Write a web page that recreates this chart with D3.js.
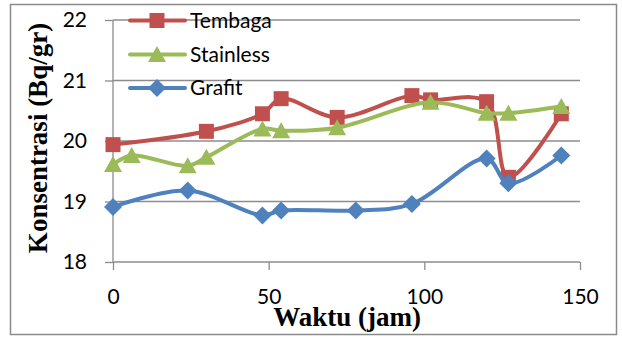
<!DOCTYPE html>
<html>
<head>
<meta charset="utf-8">
<script src="https://cdn.jsdelivr.net/npm/d3@7"></script>
<style>
  html, body { margin: 0; padding: 0; background: #fff; }
  svg { display: block; }
</style>
</head>
<body>
<svg id="chart" width="622" height="337"></svg>
<script>
// Concentration over time for three electrode materials
const tembagaX = [0, 30, 48, 54, 72, 96, 102, 120, 127, 144];
const tembagaY = [19.94, 20.16, 20.45, 20.70, 20.39, 20.75, 20.68, 20.65, 19.40, 20.45];

const stainlessX = [0, 6, 24, 30, 48, 54, 72, 102, 120, 127, 144];
const stainlessY = [19.61, 19.76, 19.59, 19.73, 20.20, 20.17, 20.22, 20.64, 20.46, 20.46, 20.57];

const grafitX = [0, 24, 48, 54, 78, 96, 120, 127, 144];
const grafitY = [18.91, 19.18, 18.77, 18.85, 18.85, 18.96, 19.71, 19.30, 19.76];

const xTicks = [0, 50, 100, 150];
const yTicks = [18, 19, 20, 21, 22];

const seriesNames = ["Tembaga", "Stainless", "Grafit"];
const seriesColors = ["#C0504D", "#9BBB59", "#4F81BD"];

// marker outlines, centred on the data point
const markerPaths = [
  "M-7.5,-7.5H7.5V7.5H-7.5Z",          // square
  "M0,-8.5L9,7.5H-9Z",                  // triangle
  "M0,-9L9,0L0,9L-9,0Z"                 // diamond
];

const series = [
  { name: seriesNames[0], xs: tembagaX, ys: tembagaY },
  { name: seriesNames[1], xs: stainlessX, ys: stainlessY },
  { name: seriesNames[2], xs: grafitX, ys: grafitY }
];

const svg = d3.select("#chart");
const plot = { left: 113, right: 580, top: 20, bottom: 262 };

const x = d3.scaleLinear().domain([0, 150]).range([plot.left, plot.right]);
const y = d3.scaleLinear().domain([18, 22]).range([plot.bottom, plot.top]);

const gridColor = "#8c8c8c";
const tickFont = "Lato, 'Open Sans', sans-serif";
const titleFont = "'Liberation Serif', 'Times New Roman', serif";

// outer chart frame
svg.append("rect")
  .attr("x", 10.5).attr("y", 4.5)
  .attr("width", 606).attr("height", 330)
  .attr("fill", "none").attr("stroke", "#8a8a8a").attr("stroke-width", 1.5);

// horizontal gridlines
svg.append("g").selectAll("line")
  .data(yTicks.filter(t => t !== 18))
  .join("line")
  .attr("x1", plot.left).attr("x2", plot.right)
  .attr("y1", d => y(d)).attr("y2", d => y(d))
  .attr("stroke", gridColor).attr("stroke-width", 1.3);

// y axis
const yAxis = svg.append("g")
  .attr("transform", `translate(${plot.left},0)`)
  .call(d3.axisLeft(y).tickValues(yTicks).tickSize(8).tickPadding(18).tickFormat(d3.format("d")));
// x axis
const xAxis = svg.append("g")
  .attr("transform", `translate(0,${plot.bottom})`)
  .call(d3.axisBottom(x).tickValues(xTicks).tickSize(8).tickPadding(19).tickFormat(d3.format("d")));

[yAxis, xAxis].forEach(g => {
  g.select(".domain").attr("stroke", gridColor).attr("stroke-width", 1.3);
  g.selectAll(".tick line").attr("stroke", gridColor).attr("stroke-width", 1.3);
  g.selectAll(".tick text")
    .attr("fill", "#000")
    .style("font-family", tickFont)
    .style("font-size", "21px");
});
yAxis.select(".domain").attr("d", `M0,${plot.top}V${plot.bottom}`);
xAxis.select(".domain").attr("d", `M${plot.left},0H${plot.right}`);

// series lines and markers
const line = d3.line()
  .x(d => x(d[0]))
  .y(d => y(d[1]))
  .curve(d3.curveCatmullRom.alpha(0.5));

series.forEach((s, i) => {
  const pts = s.xs.map((v, k) => [v, s.ys[k]]);
  const g = svg.append("g");
  g.append("path")
    .datum(pts)
    .attr("d", line)
    .attr("fill", "none")
    .attr("stroke", seriesColors[i])
    .attr("stroke-width", 4)
    .attr("stroke-linejoin", "round");
  g.selectAll("path.marker")
    .data(pts)
    .join("path")
    .attr("class", "marker")
    .attr("transform", d => `translate(${x(d[0])},${y(d[1])})`)
    .attr("d", markerPaths[i])
    .attr("fill", seriesColors[i]);
});

// legend
const legend = svg.append("g");
const legendRows = [20.5, 54.5, 88];
seriesNames.forEach((name, i) => {
  const row = legend.append("g").attr("transform", `translate(0,${legendRows[i]})`);
  row.append("line")
    .attr("x1", 130).attr("x2", 185)
    .attr("stroke", seriesColors[i]).attr("stroke-width", 4)
    .attr("stroke-linecap", "round");
  row.append("path")
    .attr("transform", "translate(157,0)")
    .attr("d", markerPaths[i])
    .attr("fill", seriesColors[i]);
  row.append("text")
    .attr("x", 190).attr("y", 7)
    .style("font-family", tickFont)
    .style("font-size", "21px")
    .attr("fill", "#000")
    .text(name);
});

// axis titles
svg.append("text")
  .attr("transform", `translate(47,138) rotate(-90)`)
  .attr("text-anchor", "middle")
  .style("font-family", titleFont)
  .style("font-weight", "bold")
  .style("font-size", "27px")
  .text("Konsentrasi (Bq/gr)");

svg.append("text")
  .attr("x", 347).attr("y", 326)
  .attr("text-anchor", "middle")
  .style("font-family", titleFont)
  .style("font-weight", "bold")
  .style("font-size", "27px")
  .text("Waktu (jam)");
</script>
</body>
</html>
